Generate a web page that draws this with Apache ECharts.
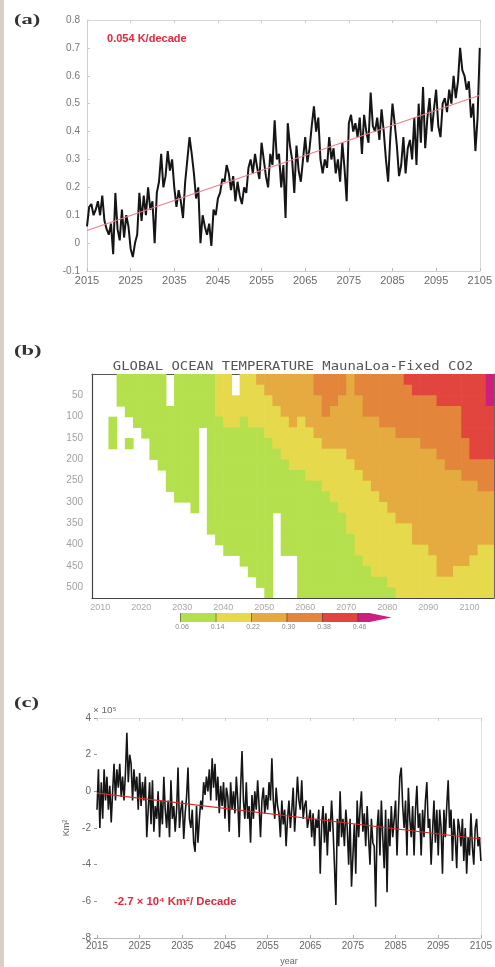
<!DOCTYPE html>
<html><head><meta charset="utf-8">
<script src="https://cdn.jsdelivr.net/npm/echarts@6/dist/echarts.min.js"></script>
<style>html,body{margin:0;padding:0;background:#fff;}#c{width:495px;height:967px;}</style>
</head><body><div id="c"></div>
<script>
// ---------- Panel (a): global mean temperature anomaly (K), half-yearly from 2015 ----------
const tempStartYear = 2015, tempStep = 0.5;
const tempAnomaly = [
 0.06,0.13, 0.14,0.10, 0.12,0.15, 0.10,0.17, 0.08,0.05, 0.03,0.07, -0.04,0.18, 0.05,0.01, 0.12,0.02, 0.10,0.06,
 -0.02,-0.05, 0.00,0.03, 0.18,0.08, 0.17,0.10, 0.20,0.12, 0.15,0.00, 0.18,0.22, 0.32,0.20, 0.24,0.33, 0.26,0.30,
 0.20,0.13, 0.19,0.15, 0.09,0.22, 0.30,0.38, 0.32,0.25, 0.16,0.20, 0.00,0.10, 0.06,0.03, 0.07,-0.01, 0.12,0.10,
 0.16,0.18, 0.23,0.22, 0.28,0.25, 0.19,0.24, 0.15,0.22, 0.17,0.14, 0.20,0.18, 0.27,0.30, 0.25,0.32, 0.27,0.23,
 0.36,0.30, 0.24,0.20, 0.32,0.28, 0.44,0.30, 0.32,0.20, 0.28,0.09, 0.43,0.35, 0.30,0.18, 0.35,0.26, 0.22,0.30,
 0.38,0.29, 0.34,0.42, 0.49,0.40, 0.45,0.30, 0.25,0.30, 0.27,0.38, 0.30,0.34, 0.25,0.30, 0.22,0.36, 0.27,0.15,
 0.43,0.46, 0.40,0.43, 0.38,0.45, 0.32,0.46, 0.40,0.36, 0.54,0.42, 0.40,0.45, 0.37,0.48, 0.40,0.30, 0.22,0.38,
 0.50,0.43, 0.35,0.24, 0.28,0.38, 0.25,0.34, 0.37,0.30, 0.45,0.28, 0.50,0.36, 0.56,0.34, 0.45,0.52, 0.40,0.48,
 0.55,0.42, 0.38,0.50, 0.52,0.47, 0.55,0.50, 0.60,0.52, 0.58,0.70, 0.62,0.60, 0.55,0.58, 0.45,0.50, 0.33,0.45,
 0.70
];
const tempTrendYears = [2015, 2105];
const tempTrendValues = [0.045, 0.53];
const yearTicksAC = [2015, 2025, 2035, 2045, 2055, 2065, 2075, 2085, 2095, 2105];

// ---------- Panel (b): ocean temperature change by depth (contour level codes) ----------
// one string per 2-year column starting 2008; each char = level code for a 25 m depth row (0-525 m)
const oceanColStart = 2008, oceanColWidth = 2, oceanRowDepth = 25;
const oceanLevels = [
 "000000000000000000000","000000000000000000000","000011100000000000000","111000000000000000000",
 "111100100000000000000","111110000000000000000","111111000000000000000","111111110000000000000",
 "111111111000000000000","000111111110000000000","111111111111000000000","111111111111000000000",
 "111111111111100000000","111110000000000000000","111111111111111000000","222211111111111100000",
 "222221111111111110000","002221111111111110000","222211111111111111000","222221111111111111100",
 "322221111111111111110","332222111111111111111","333222211111100000000","333322221111111110000",
 "333332222111111110000","333322222111111111111","333332222211111111111","443333222211111111111",
 "444433322221111111111","444333322222111111111","443333322222211111111","333333332222222111111",
 "443333333222222221111","444433333322222222111","444433333332222222211","444443333333222222211",
 "444443333333322222221","444444333333332222222","544444333333332222222","554444333333333322222",
 "554444433333333322222","554444433333333332222","555444443333333333322","555444444333333333322",
 "555444444333333333222","555555444433333333222","555555554433333332222","555555554443333322222",
 "666555554443333322222"
];
const levelValues = [0.02, 0.10, 0.18, 0.26, 0.34, 0.42, 0.50];
const colorbarLabels = ["0.06", "0.14", "0.22", "0.30", "0.38", "0.46"];
const oceanYearTicks = [2010, 2020, 2030, 2040, 2050, 2060, 2070, 2080, 2090, 2100];

// ---------- Panel (c): sea-ice area anomaly (x10^5 km^2), 3 per year from 2015 ----------
const iceStartYear = 2015, iceStep = 1 / 3;
const iceArea = [
 -1.0,1.2,-2.0, 0.5,-1.5,1.2, -0.5,0.8,-1.0, 0.3,-1.7,0.0, 1.5,-0.5,1.2, 0.2,1.5,-0.3, 0.8,-0.5,1.0, 3.2,0.5,2.0, 1.5,-0.5,1.2, 0.0,0.8,-1.0,
 1.0,-0.8,0.5, -0.5,0.8,-2.5, -1.0,0.5,-1.8, 0.6,-2.2,-0.8, -1.5,0.0,-2.5, -0.5,-1.8,0.8, -1.0,-2.0,-0.5, -2.5,0.6,-1.5, -0.8,-2.2,-1.0, 1.3,-2.0,-1.0,
 -0.5,-2.6,-1.2, -0.3,1.3,-1.5, -2.0,-1.0,-2.8, -3.3,-0.8,-2.8, -1.5,-0.5,-1.0, 0.5,-0.2,0.8, 0.0,1.2,-0.5, 1.8,0.2,1.5, -0.5,0.8,-1.2, 0.3,-0.8,0.5,
 -1.5,0.2,-0.3, -2.2,0.5,-1.0, 0.0,-1.2,0.8, -0.5,-2.5,0.2, 2.2,-0.5,-1.5, 0.5,-1.5,-0.8, -2.8,-0.2,-1.5, 0.0,-1.0,0.6, -0.8,-2.5,-0.5, 0.2,-1.2,-0.2,
 -1.0,0.5,-0.5, 1.8,-0.5,-1.5, 0.2,-0.8,-1.2, -2.5,-0.5,-1.8, -1.0,-3.0,-1.5, -0.5,-2.0,-1.0, 0.2,-2.2,-0.8, 0.8,-0.5,-1.0, 0.6,-1.5,-0.8, -0.5,-2.0,-1.5,
 -1.0,-2.5,-1.2, -3.0,-1.5,-2.0, -1.0,-4.5,-1.8, -0.8,-2.8,-1.2, -3.5,-1.5,-2.2, -0.5,-2.0,-4.0, -6.2,-1.5,-3.0, 0.0,-2.5,-1.5, -3.0,-1.0,-2.0, -4.0,-1.5,-5.2,
 -3.5,-1.8,-4.5, -0.5,-2.5,-1.0, 0.0,-2.2,-1.2, -3.0,-0.8,-2.5, -4.0,-1.5,-2.8, -3.0,-6.3,-2.0, -1.0,-3.5,-0.5, -2.5,-4.2,-1.0, -5.5,-1.5,-3.0, -0.8,-2.5,-1.5,
 -0.5,-3.5,-1.2, 0.8,1.3,-0.8, -2.0,-0.5,-3.5, 0.2,-1.5,-2.5, -0.8,-3.5,-1.0, 0.3,-2.0,-1.2, -3.5,-1.0,-2.5, -0.5,0.5,-2.0, -1.5,-4.0,-2.2, -0.5,-2.8,-1.0,
 -3.5,-1.0,-2.0, -4.5,-1.0,-2.5, -0.8,0.6,-2.0, -1.0,-3.8,-1.5, -2.5,-4.2,-1.5, -2.0,-3.0,-1.5, -3.8,-2.0,-4.5, -2.5,-3.5,-1.2, -3.0,-4.0,-2.0, -1.5,-3.0,-2.5,
 -3.8
];
const iceTrendYears = [2015, 2105];
const iceTrendValues = [-0.1, -2.6];

// ---------- build ----------
const levelColors = ['#ffffff', '#b5e04d', '#e7d94c', '#e5aa40', '#e3853a', '#e2443e', '#cd1f7d'];
const tempSeries = tempAnomaly.map((v, i) => [tempStartYear + i * tempStep, v]);
const tempTrend = tempTrendYears.map((y, i) => [y, tempTrendValues[i]]);
const iceSeries = iceArea.map((v, i) => [iceStartYear + i * iceStep, v]);
const iceTrend = iceTrendYears.map((y, i) => [y, iceTrendValues[i]]);
const NROWS = 21;
const oceanCells = [];
oceanLevels.forEach((col, k) => {
  for (let r = 0; r < NROWS; r++) {
    const lv = parseInt(col.charAt(Math.min(r, col.length - 1)), 10);
    if (lv > 0) {
      const x0 = oceanColStart + k * oceanColWidth;
      oceanCells.push([x0, x0 + oceanColWidth, r * oceanRowDepth, (r + 1) * oceanRowDepth, levelValues[lv]]);
    }
  }
});
const pieces = [];
for (let i = 1; i < levelColors.length; i++) {
  pieces.push({ gte: levelValues[i] - 0.04, lt: levelValues[i] + 0.04, color: levelColors[i] });
}

const FONT = 'Liberation Sans, Arial, sans-serif';
const chart = echarts.init(document.getElementById('c'), null, { renderer: 'canvas' });

function fmtA(v) { return Math.abs(v) < 1e-9 ? '0' : (Math.round(v * 10) / 10).toFixed(1); }
function fmtYear(v) { return String(Math.round(v)); }

// colorbar graphics
const cbX = 180, cbY = 613, cbW = 35.5, cbH = 9;
const colorbar = [];
for (let i = 1; i <= 5; i++) {
  colorbar.push({ type: 'rect', shape: { x: cbX + (i - 1) * cbW, y: cbY, width: cbW + 0.5, height: cbH }, style: { fill: levelColors[i] } });
}
const mx = cbX + 5 * cbW;
colorbar.push({ type: 'polygon', shape: { points: [[mx, cbY], [mx + 12, cbY], [mx + 34, cbY + cbH / 2], [mx + 12, cbY + cbH], [mx, cbY + cbH]] }, style: { fill: levelColors[6] } });
colorbarLabels.forEach((t, i) => {
  colorbar.push({ type: 'rect', shape: { x: cbX + i * cbW, y: cbY, width: 1, height: cbH }, style: { fill: 'rgba(60,60,60,0.55)' } });
  colorbar.push({ type: 'text', x: cbX + i * cbW + 2, y: cbY + cbH + 5, style: { text: t, font: '7px ' + FONT, fill: '#8a8a8a', align: 'center', textAlign: 'center', verticalAlign: 'middle', textVerticalAlign: 'middle' } });
});

function label(txt, x, y, font, fill, scaleX, align) {
  return { type: 'text', x: x, y: y, scaleX: scaleX || 1, style: { text: txt, font: font, fill: fill, align: align || 'left', textAlign: align || 'left', verticalAlign: 'middle', textVerticalAlign: 'middle' } };
}

const option = {
  animation: false,
  backgroundColor: '#ffffff',
  grid: [
    { left: 87, top: 20, width: 395, height: 251 },
    { left: 92, top: 374, width: 402, height: 224 },
    { left: 97, top: 718, width: 385, height: 225 }
  ],
  xAxis: [
    { gridIndex: 0, type: 'value', min: 2015, max: 2105, position: 'bottom',
      axisLine: { onZero: false, lineStyle: { color: '#cfcfcf' } },
      axisTick: { inside: true, length: 3, customValues: yearTicksAC, lineStyle: { color: '#bbb' } },
      axisLabel: { customValues: yearTicksAC, formatter: fmtYear, fontSize: 11, color: '#6a6a6a', margin: 4, fontFamily: FONT },
      splitLine: { show: false } },
    { gridIndex: 0, type: 'value', min: 2015, max: 2105, position: 'top',
      axisLine: { onZero: false, lineStyle: { color: '#d8d8d8' } },
      axisTick: { inside: true, length: 3, customValues: yearTicksAC, lineStyle: { color: '#ccc' } },
      axisLabel: { show: false }, splitLine: { show: false } },
    { gridIndex: 1, type: 'value', min: 2008, max: 2106, position: 'bottom',
      axisLine: { onZero: false, lineStyle: { color: '#444', width: 1.2 } },
      axisTick: { show: false },
      axisLabel: { customValues: oceanYearTicks, formatter: fmtYear, fontSize: 9, color: '#a8a8a8', margin: 5, fontFamily: FONT },
      splitLine: { show: false } },
    { gridIndex: 1, type: 'value', min: 2008, max: 2106, position: 'top',
      axisLine: { onZero: false, lineStyle: { color: '#555' } }, axisTick: { show: false }, axisLabel: { show: false }, splitLine: { show: false } },
    { gridIndex: 2, type: 'value', min: 2015, max: 2105, position: 'bottom',
      name: 'year', nameLocation: 'middle', nameGap: 19, nameTextStyle: { fontSize: 9, color: '#666', fontFamily: FONT },
      axisLine: { onZero: false, lineStyle: { color: '#bdbdbd' } },
      axisTick: { inside: true, length: 3, customValues: yearTicksAC, lineStyle: { color: '#aaa' } },
      axisLabel: { customValues: yearTicksAC, formatter: fmtYear, fontSize: 10, color: '#666', margin: 3, fontFamily: FONT },
      splitLine: { show: false } },
    { gridIndex: 2, type: 'value', min: 2015, max: 2105, position: 'top',
      axisLine: { onZero: false, lineStyle: { color: '#e2e2e2' } },
      axisTick: { inside: true, length: 3, customValues: yearTicksAC, lineStyle: { color: '#ccc' } },
      axisLabel: { show: false }, splitLine: { show: false } }
  ],
  yAxis: [
    { gridIndex: 0, type: 'value', min: -0.1, max: 0.8, interval: 0.1, position: 'left',
      axisLine: { show: true, onZero: false, lineStyle: { color: '#cfcfcf' } },
      axisTick: { show: true, inside: true, length: 3, lineStyle: { color: '#ccc' } },
      axisLabel: { formatter: fmtA, fontSize: 10, color: '#777', margin: 7, fontFamily: FONT },
      splitLine: { show: false } },
    { gridIndex: 0, type: 'value', min: -0.1, max: 0.8, interval: 0.1, position: 'right',
      axisLine: { show: true, onZero: false, lineStyle: { color: '#d8d8d8' } }, axisTick: { show: false }, axisLabel: { show: false }, splitLine: { show: false } },
    { gridIndex: 1, type: 'value', min: 0, max: 525, interval: 50, inverse: true, position: 'left',
      axisLine: { show: true, onZero: false, lineStyle: { color: '#444', width: 1.2 } },
      axisTick: { show: false },
      axisLabel: { formatter: v => (v === 0 || v % 50 !== 0 ? '' : String(v)), fontSize: 10, color: '#a0a0a0', margin: 9, fontFamily: FONT },
      splitLine: { show: false } },
    { gridIndex: 1, type: 'value', min: 0, max: 525, interval: 50, inverse: true, position: 'right',
      axisLine: { show: true, onZero: false, lineStyle: { color: '#666' } }, axisTick: { show: false }, axisLabel: { show: false }, splitLine: { show: false } },
    { gridIndex: 2, type: 'value', min: -8, max: 4, interval: 2, position: 'left',
      name: 'Km²', nameLocation: 'middle', nameRotate: 90, nameGap: 24, nameTextStyle: { fontSize: 9, color: '#666', fontFamily: FONT },
      axisLine: { show: false, onZero: false },
      axisTick: { show: true, length: 3, lineStyle: { color: '#999' } },
      axisLabel: { fontSize: 10, color: '#666', margin: 6, fontFamily: FONT },
      splitLine: { show: false } },
    { gridIndex: 2, type: 'value', min: -8, max: 4, interval: 2, position: 'right',
      axisLine: { show: true, onZero: false, lineStyle: { color: '#e0e0e0' } }, axisTick: { show: false }, axisLabel: { show: false }, splitLine: { show: false } }
  ],
  visualMap: [{ type: 'piecewise', show: false, seriesIndex: 2, dimension: 4, pieces: pieces }],
  series: [
    { type: 'line', xAxisIndex: 0, yAxisIndex: 0, data: tempSeries, showSymbol: false, symbol: 'none',
      lineStyle: { color: '#151515', width: 2 }, z: 2 },
    { type: 'line', xAxisIndex: 0, yAxisIndex: 0, data: tempTrend, showSymbol: false, symbol: 'none',
      lineStyle: { color: '#ec7d8c', width: 1.1 }, z: 3 },
    { type: 'custom', xAxisIndex: 2, yAxisIndex: 2, data: oceanCells, encode: { x: [0, 1], y: [2, 3] }, clip: true,
      renderItem: function (params, api) {
        const p0 = api.coord([api.value(0), api.value(2)]);
        const p1 = api.coord([api.value(1), api.value(3)]);
        return { type: 'rect', shape: { x: Math.min(p0[0], p1[0]), y: Math.min(p0[1], p1[1]),
          width: Math.abs(p1[0] - p0[0]) + 0.6, height: Math.abs(p1[1] - p0[1]) + 0.6 },
          style: { fill: api.visual('color') } };
      }, z: 1 },
    { type: 'line', xAxisIndex: 4, yAxisIndex: 4, data: iceSeries, showSymbol: false, symbol: 'none',
      lineStyle: { color: '#151515', width: 1.6 }, z: 2 },
    { type: 'line', xAxisIndex: 4, yAxisIndex: 4, data: iceTrend, showSymbol: false, symbol: 'none',
      lineStyle: { color: '#d42a2a', width: 1.1 }, z: 3 }
  ],
  graphic: [
    { type: 'rect', shape: { x: 0, y: 0, width: 4, height: 967 }, style: { fill: '#d8d0c5' }, silent: true },
    label('(a)', 14, 20, 'bold 15px Liberation Serif, serif', '#333', 1.5),
    label('0.054 K/decade', 107, 39, 'bold 10.5px ' + FONT, '#e5283e', 1.05),
    label('(b)', 14, 351, 'bold 15px Liberation Serif, serif', '#333', 1.5),
    label('GLOBAL OCEAN TEMPERATURE MaunaLoa-Fixed CO2', 293, 367, '12px DejaVu Sans Mono, monospace', '#555', 1.16, 'center'),
    label('(c)', 14, 703, 'bold 15px Liberation Serif, serif', '#333', 1.5),
    label('× 10⁵', 93, 711, '9px ' + FONT, '#666', 1.1),
    label('-2.7 × 10⁴ Km²/ Decade', 114, 902, 'bold 10.5px ' + FONT + ', DejaVu Sans', '#e3283c', 1.08)
  ].concat(colorbar)
};
chart.setOption(option);
</script>
</body></html>
